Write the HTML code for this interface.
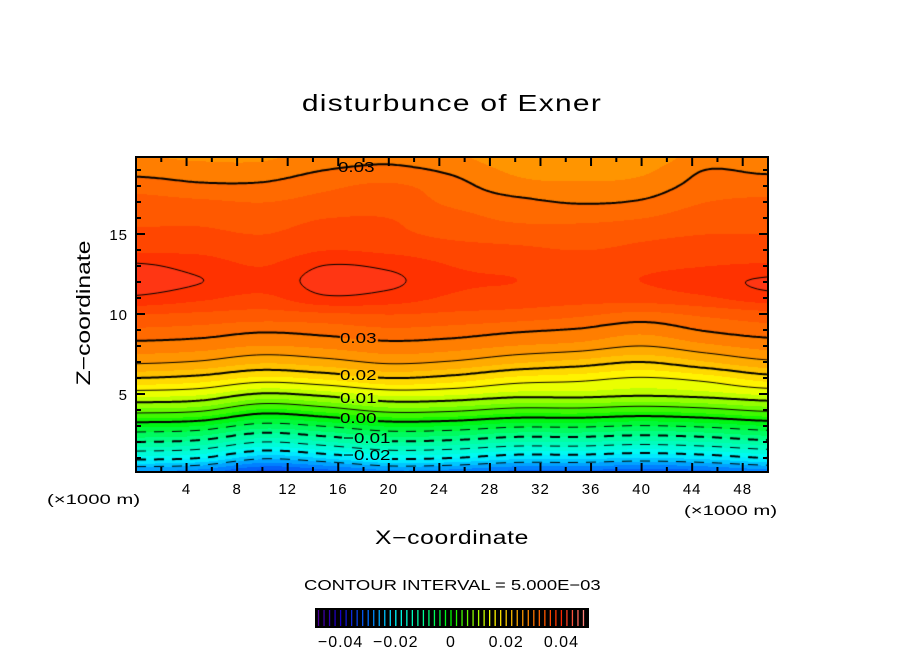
<!DOCTYPE html>
<html><head><meta charset="utf-8"><style>
body{margin:0;background:#fff;width:904px;height:654px;position:relative;overflow:hidden;font-family:"Liberation Sans",sans-serif}
.t{position:absolute;white-space:nowrap;color:#000}
</style></head><body>
<canvas id="cv" width="632" height="315" style="position:absolute;left:136px;top:157px"></canvas>
<svg id="sv" width="904" height="654" style="position:absolute;left:0;top:0"></svg>
<div class="t" style="left:0;width:904px;text-align:center;top:90px;font-size:23px;letter-spacing:1px;transform:scaleX(1.3);transform-origin:452px 0">disturbunce of Exner</div>
<div class="t" style="left:85px;top:313px;font-size:19px;transform:translate(-50%,-50%) rotate(-90deg) scaleX(1.3)">Z−coordinate</div>
<div class="t" style="left:0;width:904px;text-align:center;top:528px;font-size:19px;letter-spacing:0.5px;transform:scaleX(1.3);transform-origin:452px 0">X−coordinate</div>
<div class="t" style="left:47px;top:491px;font-size:14px;transform:scaleX(1.45);transform-origin:0 0">(×1000 m)</div>
<div class="t" style="left:684px;top:502px;font-size:14px;transform:scaleX(1.45);transform-origin:0 0">(×1000 m)</div>
<div class="t" style="left:304px;top:577px;font-size:15px;transform:scaleX(1.23);transform-origin:0 0">CONTOUR INTERVAL = 5.000E−03</div>
<div id="clabels"></div>
<script>
const xCoords=[0,5,10,15,20,25,30,35,40,45,50];
const zCoords=[0,1,2,3,4,5,6,7,8,9,10,11,12,13,14,15,16,17,18,19,20];
const field=[
[-0.029,-0.030,-0.0345,-0.0325,-0.0295,-0.030,-0.032,-0.032,-0.033,-0.032,-0.030],
[-0.019,-0.020,-0.0245,-0.0225,-0.0195,-0.020,-0.022,-0.022,-0.023,-0.022,-0.020],
[-0.010,-0.011,-0.015,-0.013,-0.0105,-0.011,-0.0127,-0.0127,-0.0136,-0.0127,-0.011],
[-0.002,-0.0028,-0.0064,-0.0048,-0.0024,-0.0028,-0.0044,-0.0044,-0.0052,-0.0044,-0.0028],
[0.0065,0.0057,0.0018,0.0035,0.0061,0.0057,0.004,0.004,0.0031,0.004,0.0057],
[0.0135,0.0128,0.0097,0.011,0.0132,0.0128,0.0114,0.0114,0.0107,0.0114,0.0128],
[0.020,0.019,0.0168,0.018,0.020,0.019,0.0168,0.016,0.0148,0.0161,0.0187],
[0.0255,0.0247,0.0228,0.0239,0.0255,0.0247,0.0228,0.0215,0.020,0.0222,0.0244],
[0.029,0.0285,0.0273,0.028,0.029,0.0285,0.0273,0.0265,0.025,0.0268,0.0283],
[0.032,0.0315,0.0305,0.0311,0.032,0.0315,0.0305,0.0297,0.0283,0.0302,0.0314],
[0.035,0.0345,0.034,0.0345,0.035,0.0345,0.034,0.033,0.0318,0.033,0.034],
[0.0395,0.038,0.0368,0.0395,0.0388,0.037,0.0365,0.036,0.036,0.037,0.0388],
[0.0415,0.0401,0.0385,0.041,0.0406,0.038,0.0375,0.037,0.0375,0.0388,0.0405],
[0.0405,0.039,0.0375,0.0401,0.0395,0.0375,0.037,0.0365,0.037,0.0375,0.038],
[0.037,0.037,0.036,0.0375,0.037,0.036,0.0355,0.035,0.0355,0.036,0.036],
[0.0355,0.0355,0.035,0.036,0.0355,0.0345,0.034,0.034,0.0345,0.035,0.035],
[0.0345,0.0345,0.034,0.035,0.035,0.0335,0.032,0.0318,0.0325,0.034,0.034],
[0.0335,0.033,0.0325,0.0335,0.034,0.032,0.0307,0.0298,0.0303,0.0325,0.033],
[0.0315,0.0305,0.0305,0.032,0.033,0.031,0.0285,0.028,0.0285,0.031,0.0315],
[0.029,0.0285,0.0285,0.030,0.0305,0.0295,0.027,0.0265,0.027,0.030,0.0295],
[0.0275,0.027,0.027,0.0285,0.0295,0.028,0.0255,0.025,0.0255,0.0285,0.028]];
const contourLevels=[-0.025,-0.02,-0.015,-0.01,-0.005,0,0.005,0.01,0.015,0.02,0.025,0.03,0.04];
const contourLabels=["−0.02","−0.01","0.00","0.01","0.02","0.03"];
const contourLabelValues=[-0.02,-0.01,0,0.01,0.02,0.03];
const xTicks=[4,8,12,16,20,24,28,32,36,40,44,48];
const zTicks=[5,10,15];
const cbarTicks=[-0.04,-0.02,0,0.02,0.04];
const cbarTickLabels=["−0.04","−0.02","0","0.02","0.04"];

const PL=136,PT=157,PW=632,PH=315,Z0=474,ZS=16,XMAX=50;
const sx=x=>PL+x/XMAX*PW;
const sz=z=>Z0-z*ZS;
function cr(p0,p1,p2,p3,t){return 0.5*((2*p1)+(-p0+p2)*t+(2*p0-5*p1+4*p2-p3)*t*t+(-p0+3*p1-3*p2+p3)*t*t*t);}
function rowAt(j,x){
  const n=xCoords.length;let i=Math.min(n-2,Math.floor(x/5));const t=(x-xCoords[i])/(xCoords[i+1]-xCoords[i]);
  const r=field[j],g=k=>r[Math.max(0,Math.min(n-1,k))];
  return cr(g(i-1),g(i),g(i+1),g(i+2),t);
}
function fval(x,z){
  z=Math.max(0,Math.min(20,z));x=Math.max(0,Math.min(50,x));
  const m=zCoords.length;let j=Math.min(m-2,Math.floor(z));const t=(z-zCoords[j])/(zCoords[j+1]-zCoords[j]);
  const g=k=>rowAt(Math.max(0,Math.min(m-1,k)),x);
  return cr(g(j-1),g(j),g(j+1),g(j+2),t);
}
const cstops=[[-0.05,[90,0,140]],[-0.04,[20,0,200]],[-0.03,[0,110,255]],[-0.02,[0,250,255]],[-0.01,[0,255,150]],[0,[0,245,0]],[0.01,[170,255,0]],[0.015,[255,255,0]],[0.02,[255,205,0]],[0.025,[255,160,0]],[0.03,[255,115,0]],[0.035,[255,80,0]],[0.04,[255,40,0]],[0.05,[255,150,150]]];
function cmap(v){
  if(v<=cstops[0][0])return cstops[0][1];
  for(let k=0;k<cstops.length-1;k++){const[a,ca]=cstops[k],[b,cb]=cstops[k+1];
    if(v<=b){const t=(v-a)/(b-a);return ca.map((q,n)=>Math.round(q+(cb[n]-q)*t));}}
  return cstops[cstops.length-1][1];
}
const cv=document.getElementById('cv'),ctx=cv.getContext('2d');
const G=2,nx=Math.ceil(PW/G)+1,ny=Math.ceil(PH/G)+1;
const gv=[];for(let j=0;j<ny;j++){gv.push([]);for(let i=0;i<nx;i++){gv[j].push(fval(i*G/PW*XMAX,(Z0-(PT+j*G))/ZS));}}
const img=ctx.createImageData(PW,PH);
for(let py=0;py<PH;py++)for(let px=0;px<PW;px++){
  const gi=px/G,gj=py/G,i=Math.min(nx-2,Math.floor(gi)),j=Math.min(ny-2,Math.floor(gj)),tx=gi-i,ty=gj-j;
  let v=(gv[j][i]*(1-tx)+gv[j][i+1]*tx)*(1-ty)+(gv[j+1][i]*(1-tx)+gv[j+1][i+1]*tx)*ty;
  v=Math.floor(v/0.0025)*0.0025+0.00125;
  const c=cmap(v),o=(py*PW+px)*4;img.data[o]=c[0];img.data[o+1]=c[1];img.data[o+2]=c[2];img.data[o+3]=255;}
ctx.putImageData(img,0,0);
ctx.strokeStyle='#000';
for(const L of contourLevels){
  const thick=Math.abs(Math.round(L/0.01)*0.01-L)<1e-6&&L!==0.04;
  const labeled=contourLabelValues.some(q=>Math.abs(q-L)<1e-6);
  const g0=L<0?205:202,g1=L<0?256:242;
  ctx.lineWidth=thick?2:1;
  ctx.beginPath();
  for(let j=0;j<ny-1;j++)for(let i=0;i<nx-1;i++){
    if(L<0&&Math.floor(i*G/9)%2===1)continue;
    if(labeled&&i*G>g0&&i*G<g1&&j*G>140)continue;
    const v=[gv[j][i],gv[j][i+1],gv[j+1][i+1],gv[j+1][i]];
    const P=[[i*G,j*G],[(i+1)*G,j*G],[(i+1)*G,(j+1)*G],[i*G,(j+1)*G]];
    const pts=[];
    for(let e=0;e<4;e++){const a=v[e],b=v[(e+1)%4];
      if((a<L)!==(b<L)){const t=(L-a)/(b-a),p=P[e],q=P[(e+1)%4];pts.push([p[0]+(q[0]-p[0])*t,p[1]+(q[1]-p[1])*t]);}}
    for(let k=0;k+1<pts.length;k+=2){ctx.moveTo(pts[k][0],pts[k][1]);ctx.lineTo(pts[k+1][0],pts[k+1][1]);}
  }
  ctx.stroke();
}
const lblDiv=document.getElementById('clabels');
contourLabelValues.forEach((val,k)=>{
  let zz=0;for(let z=0;z<10;z+=0.02){if(fval(17.6,z)>=val){zz=z;break;}}
  const d=document.createElement('div');
  
  
  d.className='t';d.style.fontSize='15px';d.style.left=(val<0?343:340)+'px';d.style.top=(sz(zz)-9)+'px';
  d.style.transform='scaleX(1.25)';d.style.transformOrigin='0 0';
  d.textContent=contourLabels[k];lblDiv.appendChild(d);
});
{const d=document.createElement('div');


d.className='t';d.style.fontSize='15px';d.style.left='338px';d.style.top='159px';d.style.transform='scaleX(1.25)';d.style.transformOrigin='0 0';d.textContent='0.03';lblDiv.appendChild(d);}
const sv=document.getElementById('sv'),NS='http://www.w3.org/2000/svg';
function mk(tag,at){const e=document.createElementNS(NS,tag);for(const k in at)e.setAttribute(k,at[k]);sv.appendChild(e);return e;}
const fr=mk('rect',{x:PL,y:PT,width:PW,height:PH,fill:'none',stroke:'#000','stroke-width':2});


for(let x=2;x<50;x+=2){const maj=x%4===0,len=maj?9:5;
  mk('line',{x1:sx(x),x2:sx(x),y1:PT+PH,y2:PT+PH-len,stroke:'#000','stroke-width':2});
  mk('line',{x1:sx(x),x2:sx(x),y1:PT,y2:PT+len,stroke:'#000','stroke-width':2});}
for(let z=1;z<20;z++){const maj=z%5===0,len=maj?9:5;
  mk('line',{x1:PL,x2:PL+len,y1:sz(z),y2:sz(z),stroke:'#000','stroke-width':2});
  mk('line',{x1:PL+PW,x2:PL+PW-len,y1:sz(z),y2:sz(z),stroke:'#000','stroke-width':2});}
xTicks.forEach(x=>{const t=mk('text',{x:sx(x),y:494,'text-anchor':'middle','font-size':15,'letter-spacing':1,'font-family':'Liberation Sans'});t.textContent=x;
  
  });
zTicks.forEach(z=>{const t=mk('text',{x:128,y:sz(z)+6,'text-anchor':'end','font-size':15,'letter-spacing':1,'font-family':'Liberation Sans'});t.textContent=z;
  
  });
const CB0=313,CB1=589,cbx=v=>CB0+(v+0.05)/0.1*(CB1-CB0);
const cb=mk('rect',{x:315,y:608,width:274,height:20,fill:'#000'});


for(let v=-0.048;v<0.0495;v+=0.002){const c=cmap(v);
  mk('line',{x1:cbx(v),x2:cbx(v),y1:610,y2:626,stroke:`rgb(${c[0]},${c[1]},${c[2]})`,'stroke-width':1.3});}
cbarTicks.forEach((v,k)=>{const t=mk('text',{x:cbx(v),y:647,'text-anchor':'middle','font-size':16,'letter-spacing':1,'font-family':'Liberation Sans'});t.textContent=cbarTickLabels[k];
  
  });
</script>
</body></html>
